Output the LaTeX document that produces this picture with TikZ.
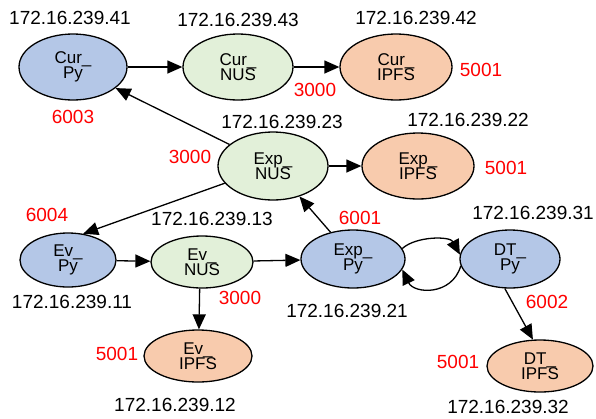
\documentclass[tikz,border=0pt]{standalone}
\usepackage{fontspec}
\setmainfont{Liberation Sans}
\usetikzlibrary{shapes.geometric,arrows.meta}
\definecolor{pyblue}{RGB}{180,199,231}
\definecolor{nusgreen}{RGB}{226,240,217}
\definecolor{ipfsorange}{RGB}{248,203,173}
\tikzset{
  svc/.style={ellipse,draw=black,line width=1.3pt,inner sep=0pt,
    font=\fontsize{17}{15.5}\selectfont,align=center},
  pysvc/.style={svc,fill=pyblue},
  nussvc/.style={svc,fill=nusgreen},
  ipfssvc/.style={svc,fill=ipfsorange},
  ip/.style={font=\fontsize{19}{19}\selectfont,text=black},
  port/.style={font=\fontsize{19}{19}\selectfont,text=red},
  flow/.style={line width=1.3pt,-{Triangle[length=15pt,width=13pt]}}
}
\begin{document}
\begin{tikzpicture}[x=1pt,y=-1pt]
\useasboundingbox (0,0) rectangle (596,418);

% services
\node[pysvc,minimum width=108pt,minimum height=66pt] (curpy) at (73,67) {Cur\_\\Py};
\node[nussvc,minimum width=110pt,minimum height=66pt] (curnus) at (238,67) {Cur\_\\NUS};
\node[ipfssvc,minimum width=112pt,minimum height=66pt] (curipfs) at (396,67) {Cur\_\\IPFS};

\node[nussvc,minimum width=110pt,minimum height=68pt] (expnus) at (273,166) {Exp\_\\NUS};
\node[ipfssvc,minimum width=112pt,minimum height=66pt] (expipfs) at (418,166) {Exp\_\\IPFS};

\node[pysvc,minimum width=96pt,minimum height=54pt] (evpy) at (68,260) {Ev\_\\Py};
\node[nussvc,minimum width=102pt,minimum height=52pt] (evnus) at (202,262) {Ev\_\\NUS};
\node[ipfssvc,minimum width=108pt,minimum height=52pt] (evipfs) at (198,356) {Ev\_\\IPFS};

\node[pysvc,minimum width=104pt,minimum height=58pt] (exppy) at (353,259) {Exp\_\\Py};
\node[pysvc,minimum width=100pt,minimum height=58pt] (dtpy) at (510,259) {DT\_\\Py};
\node[ipfssvc,minimum width=106pt,minimum height=52pt] (dtipfs) at (540,366) {DT\_\\IPFS};

% host addresses
\node[ip] (ipcurpy) at (70,18) {172.16.239.41};
\node[ip] (ipcurnus) at (238,20) {172.16.239.43};
\node[ip] (ipcuripfs) at (416,18) {172.16.239.42};
\node[ip] (ipexpnus) at (282,122) {172.16.239.23};
\node[ip] (ipexpipfs) at (468,120) {172.16.239.22};
\node[ip] (ipevnus) at (212,219) {172.16.239.13};
\node[ip] (ipevpy) at (72,302) {172.16.239.11};
\node[ip] (ipexppy) at (347,311) {172.16.239.21};
\node[ip] (ipdtpy) at (533,213) {172.16.239.31};
\node[ip] (ipevipfs) at (175,405) {172.16.239.12};
\node[ip] (ipdtipfs) at (508,407) {172.16.239.32};

% ports
\node[port] (pcurpy) at (73,117) {6003};
\node[port] (pcurnus) at (315,90) {3000};
\node[port] (pcuripfs) at (481,70) {5001};
\node[port] (pexpnus) at (190,157) {3000};
\node[port] (pexpipfs) at (506,168) {5001};
\node[port] (pevpy) at (47,215) {6004};
\node[port] (pexppy) at (360,218) {6001};
\node[port] (pevnus) at (240,298) {3000};
\node[port] (pevipfs) at (117,354) {5001};
\node[port] (pdtpy) at (547,302) {6002};
\node[port] (pdtipfs) at (458,362) {5001};

% connections
\draw[flow] (curpy) -- (curnus);
\draw[flow] (curnus) -- (curipfs);
\draw[flow] (expnus) -- (curpy);
\draw[flow] (expnus) -- (expipfs);
\draw[flow] (expnus) -- (evpy.60);
\draw[flow] (evpy) -- (evnus);
\draw[flow] (evnus) -- (exppy);
\draw[flow] (exppy.130) -- (expnus);
\draw[flow] (evnus.265) -- (evipfs.88);
\draw[flow] (dtpy.260) -- (dtipfs.105);
\draw[flow] (exppy.12) .. controls (416,236) and (450,236) .. (dtpy.175);
\draw[flow] (dtpy.188) .. controls (452,296) and (414,294) .. (exppy.348);
\end{tikzpicture}
\end{document}
